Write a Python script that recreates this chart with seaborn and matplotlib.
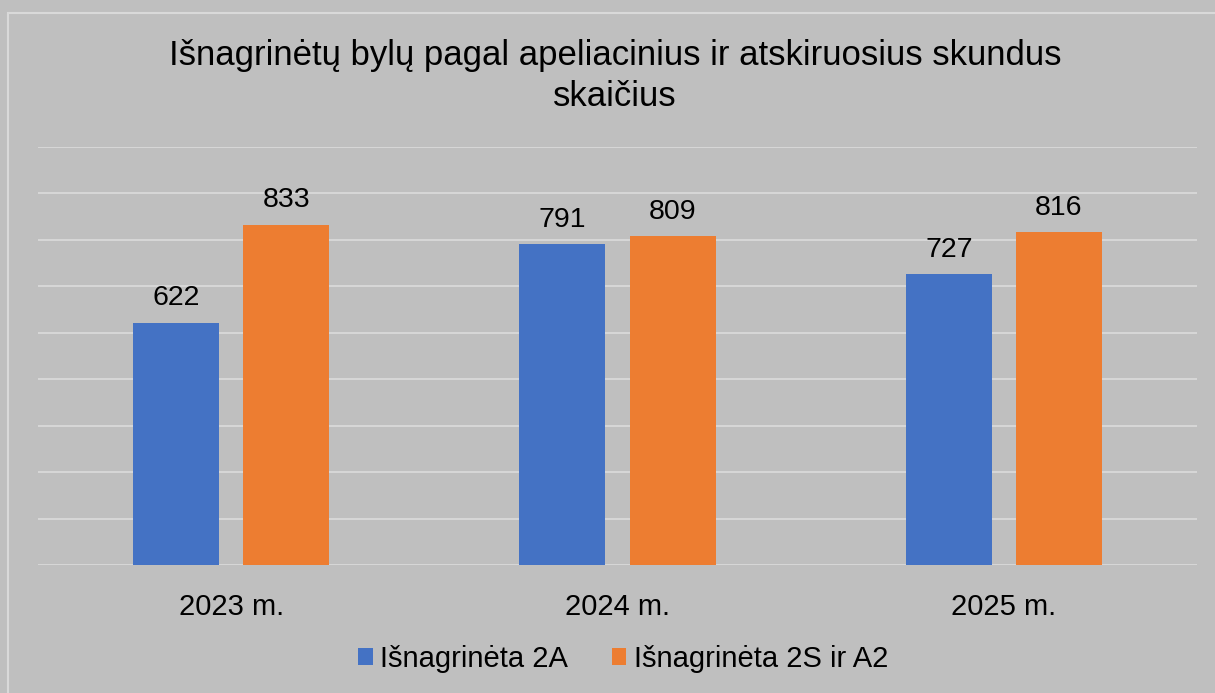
import pandas as pd
import matplotlib.pyplot as plt
import matplotlib.patches as mpatches
import seaborn as sns

# chart data
years = ['2023 m.', '2024 m.', '2025 m.']
series_names = ['Išnagrinėta 2A', 'Išnagrinėta 2S ir A2']
values_2a = [622, 791, 727]
values_2s_a2 = [833, 809, 816]
colors = ['#4472C4', '#ED7D31']

df = pd.DataFrame({
    'year': years * 2,
    'series': [series_names[0]] * 3 + [series_names[1]] * 3,
    'value': values_2a + values_2s_a2,
})

bg = '#BFBFBF'
sns.set_theme(style='white')
plt.rcParams['font.family'] = ['Liberation Sans', 'DejaVu Sans']
plt.rcParams['text.color'] = 'black'

fig = plt.figure(figsize=(12.15, 6.93), dpi=100, facecolor=bg)
ax = fig.add_axes([38 / 1215, 1 - 565 / 693, 1159 / 1215, 418 / 693])
ax.set_facecolor(bg)

sns.barplot(data=df, x='year', y='value', hue='series', palette=colors,
            width=0.57, gap=0.218, ax=ax, saturation=1, linewidth=0)

for c in ax.containers:
    ax.bar_label(c, fontsize=20.5, padding=8, color='black')

ax.set_ylim(100, 1000)
ax.set_xlim(-0.5, 2.5)
ax.set_yticks(range(100, 1001, 100))
ax.yaxis.grid(True, color='#D9D9D9', linewidth=1.3)
ax.set_axisbelow(True)
ax.tick_params(axis='y', left=False, labelleft=False)
ax.tick_params(axis='x', bottom=False, labelsize=21, pad=14, colors='black')
ax.set_xlabel('')
ax.set_ylabel('')
for s in ax.spines.values():
    s.set_visible(False)

fig.text(0.506, 1 - 76 / 693,
         'Išnagrinėtų bylų pagal apeliacinius ir atskiruosius skundus\nskaičius',
         ha='center', va='center', fontsize=25, linespacing=1.28, color='black')

leg = ax.legend(loc='center', bbox_to_anchor=(623 / 1215, 1 - 659 / 693), bbox_transform=fig.transFigure,
                ncol=2, frameon=False, fontsize=21, handlelength=0.5, handleheight=0.5,
                handletextpad=0.25, columnspacing=1.5)
for t in leg.get_texts():
    t.set_color('black')

# outer chart border
fig.patches.append(mpatches.Rectangle((8 / 1215, -0.1), 1.2, 1.1 - 13 / 693,
                                      transform=fig.transFigure, fill=False,
                                      edgecolor='#D9D9D9', linewidth=1.5))

fig.savefig('out.png', dpi=100, facecolor=bg)
